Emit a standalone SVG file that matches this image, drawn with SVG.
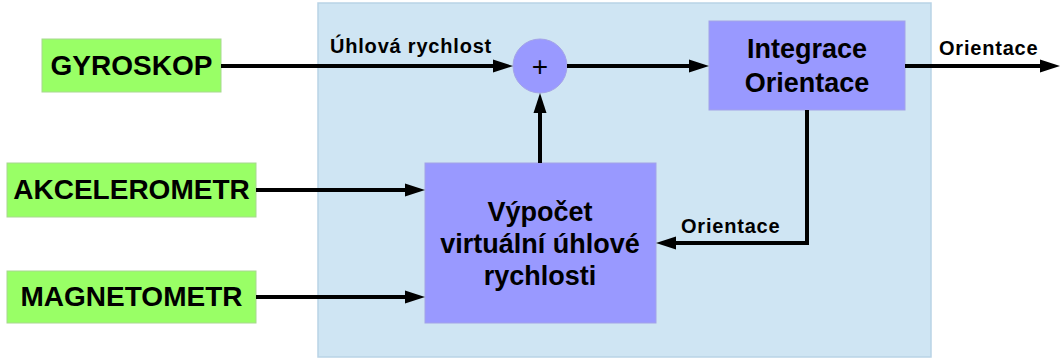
<svg xmlns="http://www.w3.org/2000/svg" width="1062" height="360" viewBox="0 0 1062 360">
  <defs>
    <marker id="arrow" markerUnits="userSpaceOnUse" markerWidth="20" markerHeight="14" refX="10" refY="7" orient="auto">
      <path d="M0,0.5 L20,7 L0,13.5 z" fill="#000"/>
    </marker>
  </defs>
  <style>
    .panel { fill: #cfe5f3; stroke: #b9d3e6; stroke-width: 1.5; }
    .sensor { fill: #99ff66; stroke: #a8d890; stroke-width: 1; }
    .block { fill: #9999ff; stroke: #a3a3e8; stroke-width: 1; }
    .big { font-family: "Liberation Sans", Arial, sans-serif; font-weight: bold; font-size: 28px; fill: #000; text-anchor: middle; }
    .mid { font-family: "Liberation Sans", Arial, sans-serif; font-weight: bold; font-size: 27px; fill: #000; text-anchor: middle; }
    .lbl { font-family: "Liberation Sans", Arial, sans-serif; font-weight: bold; font-size: 20px; letter-spacing: 0.8px; fill: #000; }
    .wire { fill: none; stroke: #000; stroke-width: 4; marker-end: url(#arrow); }
  </style>

  <!-- processing area -->
  <rect class="panel" x="318" y="3" width="613" height="354"/>

  <g id="gyroskop">
    <rect class="sensor" x="42" y="39" width="179" height="53"/>
    <text class="big" x="131.5" y="75">GYROSKOP</text>
  </g>

  <g id="akcelerometr">
    <rect class="sensor" x="7" y="163" width="249" height="54"/>
    <text class="big" x="131.5" y="199">AKCELEROMETR</text>
  </g>

  <g id="magnetometr">
    <rect class="sensor" x="7" y="271" width="249" height="52"/>
    <text class="big" x="131.5" y="306">MAGNETOMETR</text>
  </g>

  <g id="soucet">
    <circle class="block" cx="540" cy="66" r="27"/>
    <text x="540" y="75.5" font-family="Liberation Sans, Arial, sans-serif" font-size="28" text-anchor="middle">+</text>
  </g>

  <g id="integrace">
    <rect class="block" x="709" y="21" width="196" height="89"/>
    <text class="mid" x="807" y="58">Integrace</text>
    <text class="mid" x="807" y="92">Orientace</text>
  </g>

  <g id="vypocet">
    <rect class="block" x="425" y="163" width="231" height="160"/>
    <text class="mid" x="540" y="221">Výpočet</text>
    <text class="mid" x="540" y="253">virtuální úhlové</text>
    <text class="mid" x="540" y="285">rychlosti</text>
  </g>

  <g id="connectors">
    <path class="wire" d="M221,66 H503"/>
    <path class="wire" d="M567,66 H699"/>
    <path class="wire" d="M905,66 H1050"/>
    <path class="wire" d="M256,190 H415"/>
    <path class="wire" d="M256,297 H415"/>
    <path class="wire" d="M540,163 V103"/>
    <path class="wire" d="M807,110 V243 H666"/>
    <text class="lbl" x="330" y="53">Úhlová rychlost</text>
    <text class="lbl" x="939" y="55">Orientace</text>
    <text class="lbl" x="681" y="233">Orientace</text>
  </g>
</svg>
